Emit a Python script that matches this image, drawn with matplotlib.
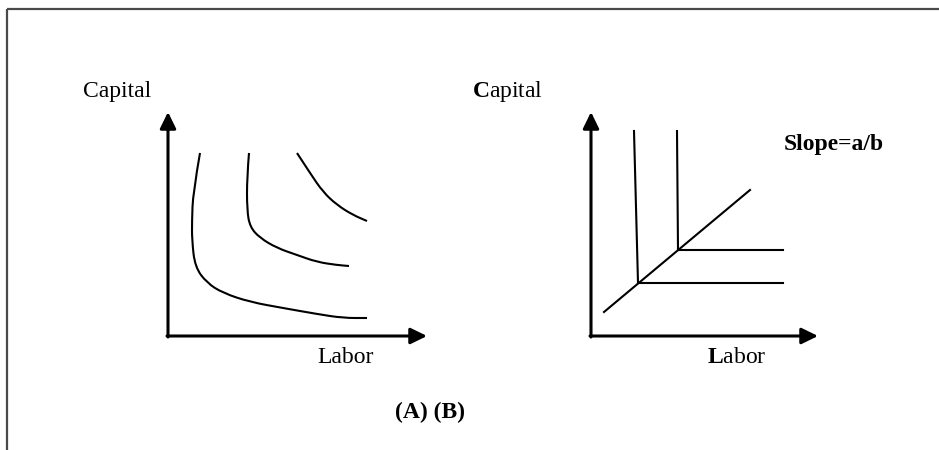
import numpy as np
import matplotlib
matplotlib.use('Agg')
import matplotlib.pyplot as plt
from matplotlib.path import Path
from matplotlib.patches import PathPatch

plt.rcParams['font.family'] = ['Liberation Serif', 'DejaVu Serif']
plt.rcParams['mathtext.fontset'] = 'custom'
plt.rcParams['mathtext.rm'] = 'Liberation Serif'
plt.rcParams['mathtext.bf'] = 'Liberation Serif:bold'

# (A) smooth isoquants, labor vs capital (1 unit ~ 10 px)
iso1_L = [3.2, 2.5, 2.4, 2.4, 2.7, 3.9, 5.5, 8.2, 11.5, 14.9, 17.5, 19.9]
iso1_K = [18.3, 14.3, 11.5, 9.6, 6.9, 5.3, 4.3, 3.4, 2.8, 2.2, 1.8, 1.8]
iso2_L = [8.1, 7.9, 7.9, 8.2, 9.2, 10.9, 12.9, 14.9, 16.9, 18.1]
iso2_K = [18.3, 15.9, 12.6, 10.9, 9.8, 8.8, 8.1, 7.4, 7.1, 7.0]
iso3_L = [12.9, 14.2, 15.5, 16.9, 18.5, 19.9]
iso3_K = [18.3, 16.3, 14.4, 13.1, 12.1, 11.5]

# (B) fixed proportions: corner points on the ray, arm tops / ends
corner_L = [4.7, 8.7]
corner_K = [5.3, 8.6]
arm_top_L = [4.3, 8.6]
arm_top_K = [20.5, 20.5]
arm_end_L = [19.2, 19.2]
ray_L = [1.3, 15.9]
ray_K = [2.4, 14.6]

W, H = 939, 450
fig = plt.figure(figsize=(W / 100, H / 100), dpi=100)

# frame (top and left border only)
bg = fig.add_axes([0, 0, 1, 1])
bg.set_xlim(0, W); bg.set_ylim(H, 0); bg.axis('off')
bg.plot([7, W], [9, 9], color='#4a4a4a', lw=1.6, solid_capstyle='butt')
bg.plot([7, 7], [9, H], color='#4a4a4a', lw=1.6, solid_capstyle='butt')


def panel(x0, y0):
    # origin at pixel (x0, y0), 10 px per unit
    ax = fig.add_axes([x0 / W, (H - y0) / H, 260 / W, 240 / H])
    ax.set_xlim(0, 26); ax.set_ylim(0, 24)
    ax.axis('off')
    return ax


def axes_arrows(ax, xtip, ytip):
    style = dict(arrowstyle='-|>,head_length=0.45,head_width=0.22', color='k',
                 lw=2.2, mutation_scale=22, shrinkA=0, shrinkB=0)
    ax.annotate('', xy=(xtip, 0), xytext=(-0.1, 0), arrowprops=style, annotation_clip=False)
    ax.annotate('', xy=(0, ytip), xytext=(0, -0.1), arrowprops=style, annotation_clip=False)


def smooth(ax, xs, ys):
    pts = np.column_stack([xs, ys])
    verts = [pts[0]]
    codes = [Path.MOVETO]
    for i in range(1, len(pts) - 1):
        verts += [pts[i], (pts[i] + pts[i + 1]) / 2]
        codes += [Path.CURVE3, Path.CURVE3]
    verts.append(pts[-1]); codes.append(Path.LINETO)
    ax.add_patch(PathPatch(Path(verts, codes), fill=False, lw=1.5, color='k',
                           capstyle='butt', joinstyle='round'))


fs = 17

# panel A
axA = panel(168, 336)
axes_arrows(axA, 25.9, 22.4)
for xs, ys in [(iso1_L, iso1_K), (iso2_L, iso2_K), (iso3_L, iso3_K)]:
    smooth(axA, xs, ys)
axA.text(-8.5, 23.9, 'Capital', fontsize=fs, va='baseline', ha='left', clip_on=False)
axA.text(14.9, -2.7, 'Labor', fontsize=fs, va='baseline', ha='left', clip_on=False)

# panel B
axB = panel(591, 336)
axes_arrows(axB, 22.7, 22.4)
for i in range(len(corner_L)):
    axB.plot([arm_top_L[i], corner_L[i]], [arm_top_K[i], corner_K[i]], color='k', lw=1.5)
    axB.plot([corner_L[i], arm_end_L[i]], [corner_K[i], corner_K[i]], color='k', lw=1.5)
axB.plot(ray_L, ray_K, color='k', lw=1.5)

axB.text(-11.9, 23.9, r'$\mathbf{C}\mathrm{apital}$', fontsize=fs, va='baseline', ha='left', clip_on=False)
axB.text(11.6, -2.7, r'$\mathbf{L}\mathrm{abor}$', fontsize=fs, va='baseline', ha='left', clip_on=False)
axB.text(19.3, 18.6, 'Slope=a/b', fontsize=fs, fontweight='bold', va='baseline', ha='left', clip_on=False)

fig.text(395 / W, (H - 418) / H, '(A) (B)', fontsize=fs, fontweight='bold', va='baseline', ha='left')

fig.savefig('out.png', dpi=100)
